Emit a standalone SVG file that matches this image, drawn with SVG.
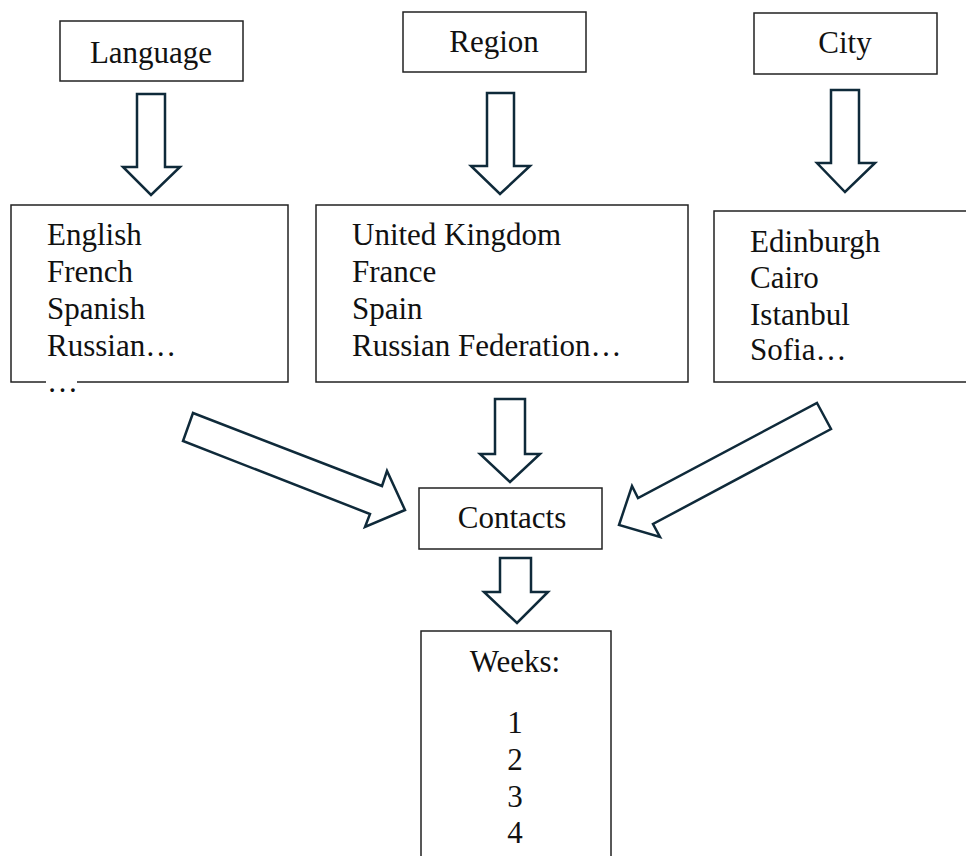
<svg xmlns="http://www.w3.org/2000/svg" width="966" height="856" viewBox="0 0 966 856">
<style>
  .box { fill: #ffffff; stroke: #222222; stroke-width: 1.5; }
  .arrow { fill: #ffffff; stroke: #0f2a3a; stroke-width: 2.5; stroke-linejoin: miter; }
  .t { font-size: 31px; fill: #111111; }
  .c { text-anchor: middle; }
</style>
<rect x="0" y="0" width="966" height="856" fill="#ffffff"/>

<g id="connectors">
  <polygon class="arrow" points="137,94 165,94 165,167 180,167 151,195 123,167 137,167"/>
  <polygon class="arrow" points="487,93 514,93 514,166 530,166 500,194 471,166 487,166"/>
  <polygon class="arrow" points="831,90 859,90 859,163 875,163 845,192 817,163 831,163"/>
  <polygon class="arrow" points="495,399 525,399 525,454 540,454 510,482 480,454 495,454"/>
  <polygon class="arrow" points="193,413 382,486 387,471 405,510 365,527 370,514 183,441"/>
  <polygon class="arrow" points="817,403 831,429 653,524 660,537 619,525 632,486 638,498"/>
  <polygon class="arrow" points="500,558 531,558 531,592 548,592 517,623 484,592 500,592"/>
</g>

<g font-family="'Liberation Serif', 'Times New Roman', serif">
<g id="language">
  <rect class="box" x="60" y="21" width="183" height="60"/>
  <text class="t c" x="151" y="63">Language</text>
</g>
<g id="region">
  <rect class="box" x="403" y="12" width="183" height="60"/>
  <text class="t c" x="494" y="52">Region</text>
</g>
<g id="city">
  <rect class="box" x="754" y="13" width="183" height="61"/>
  <text class="t c" x="845" y="53">City</text>
</g>

<g id="language-list">
  <rect class="box" x="11" y="205" width="277" height="177"/>
  <rect x="46" y="378" width="31" height="8" fill="#ffffff"/>
  <text class="t" x="47" y="245">English</text>
  <text class="t" x="47" y="282">French</text>
  <text class="t" x="47" y="319">Spanish</text>
  <text class="t" x="47" y="356">Russian…</text>
  <text class="t" x="47" y="392">…</text>
</g>

<g id="region-list">
  <rect class="box" x="316" y="205" width="372" height="177"/>
  <text class="t" x="352" y="245">United Kingdom</text>
  <text class="t" x="352" y="282">France</text>
  <text class="t" x="352" y="319">Spain</text>
  <text class="t" x="352" y="356">Russian Federation…</text>
</g>

<g id="city-list">
  <rect class="box" x="714" y="211" width="260" height="171"/>
  <text class="t" x="750" y="252">Edinburgh</text>
  <text class="t" x="750" y="288">Cairo</text>
  <text class="t" x="750" y="325">Istanbul</text>
  <text class="t" x="750" y="360">Sofia…</text>
</g>

<g id="contacts">
  <rect class="box" x="419" y="488" width="183" height="61"/>
  <text class="t c" x="512" y="528">Contacts</text>
</g>

<g id="weeks">
  <rect class="box" x="421" y="631" width="190" height="240"/>
  <text class="t c" x="515" y="672">Weeks:</text>
  <text class="t c" x="515" y="733">1</text>
  <text class="t c" x="515" y="770">2</text>
  <text class="t c" x="515" y="807">3</text>
  <text class="t c" x="515" y="843">4</text>
</g>
</g>
</svg>
